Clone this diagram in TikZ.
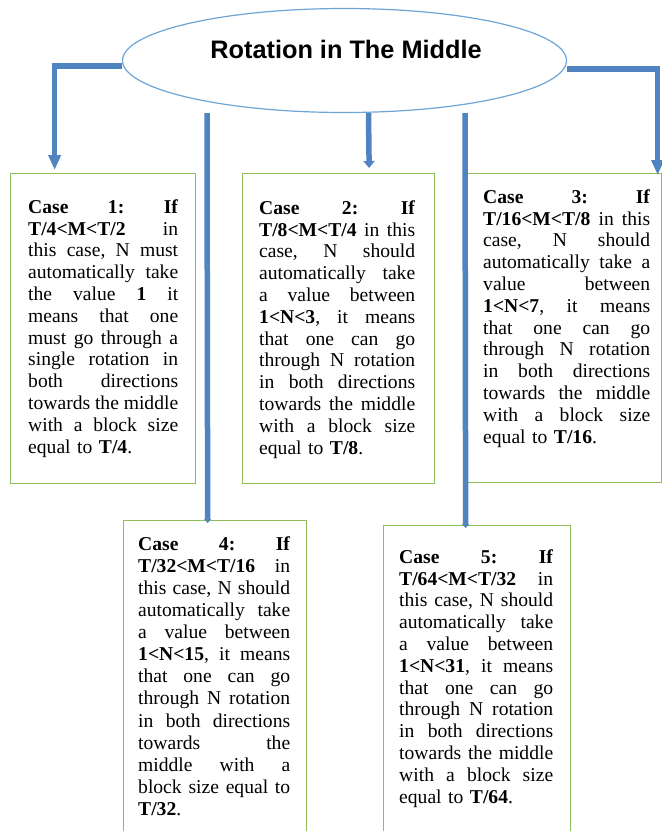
\documentclass[tikz,border=0pt]{standalone}
\usepackage{fontspec}
\setmainfont{Liberation Serif}
\newfontfamily\titlefont{Liberation Sans}
\usetikzlibrary{arrows.meta,shapes.geometric}
\pgfdeclarelayer{bg}
\pgfsetlayers{bg,main}
\definecolor{connblue}{RGB}{80,132,192}
\definecolor{ellblue}{RGB}{110,165,215}
\definecolor{boxgreen}{RGB}{141,190,90}
\newcommand\jl[1]{\leavevmode\hbox to \hsize{\spaceskip=\fontdimen2\font plus 1fil minus 0.1em\xspaceskip=\spaceskip #1}}
\tikzset{
  casebox/.style={draw=boxgreen, line width=1.3pt, rectangle, inner sep=0pt, anchor=north west},
  casetext/.style={anchor=north west, inner sep=0pt, text width=#1, align=left,
     font=\fontsize{19.6}{21.8}\selectfont\frenchspacing,
     execute at begin node={\parindent=0pt\noindent\rule{0pt}{15pt}}},
  conn/.style={draw=connblue, line width=5.5pt},
  bigtip/.style={-{Triangle[width=12pt,length=15pt]}},
  midtip/.style={-{Triangle[width=11pt,length=7pt]}},
  smalltip/.style={-{Triangle[width=7pt,length=4pt]}},
}
\begin{document}
\begin{tikzpicture}[x=1pt,y=-1pt]
\useasboundingbox (0,0) rectangle (662,831);
\begin{pgfonlayer}{bg}
\node[casebox, minimum width=185pt, minimum height=310pt] (b1) at (10,173) {};
\node[casebox, minimum width=192pt, minimum height=310pt] (b2) at (242,173) {};
\node[casebox, minimum width=195pt, minimum height=309pt] (b3) at (466,173) {};
\node[casebox, minimum width=183pt, minimum height=340pt] (b4) at (123,520) {};
\node[casebox, minimum width=187pt, minimum height=335pt] (b5) at (383,525) {};
\end{pgfonlayer}
\node[ellipse, draw=ellblue, line width=1.2pt, fill=white, minimum width=444pt, minimum height=104pt, inner sep=0pt] (ell) at (344.5,60.5) {};
\node[font=\titlefont\bfseries\fontsize{25.3}{30}\selectfont, inner sep=0pt] (title) at (346,49) {Rotation in The Middle};
\begin{pgfonlayer}{bg}
\draw[conn, bigtip] ([yshift=-5.5pt]ell.west) -| ([xshift=-48.5pt,yshift=3pt]b1.north);
\draw[conn, bigtip] ([yshift=-8.5pt]ell.east) -| ([xshift=93.5pt,yshift=-2pt]b3.north);
\draw[conn, midtip] ([xshift=24pt]ell.south) -- ([xshift=30.5pt,yshift=5pt]b2.north);
\draw[conn, smalltip] ([xshift=-137.5pt]ell.south) -- ([xshift=-7.5pt,yshift=-3pt]b4.north);
\draw[conn, smalltip] ([xshift=120.5pt]ell.south) -- ([xshift=-11.5pt,yshift=-3pt]b5.north);
\end{pgfonlayer}
\node[casetext=150pt] (t1) at (28,198) {%
\jl{\textbf{Case 1: If}}\\
\jl{\textbf{T/4<M<T/2} in}\\
\jl{this case, N must}\\
\jl{automatically take}\\
\jl{the value \textbf{1} it}\\
\jl{means that one}\\
\jl{must go through a}\\
\jl{single rotation in}\\
\jl{both directions}\\
\jl{towards the middle}\\
\jl{with a block size}\\
equal to \textbf{T/4}.};
\node[casetext=156pt] (t2) at (259,199) {%
\jl{\textbf{Case 2: If}}\\
\jl{\textbf{T/8<M<T/4} in this}\\
\jl{case, N should}\\
\jl{automatically take}\\
\jl{a value between}\\
\jl{\textbf{1<N<3}, it means}\\
\jl{that one can go}\\
\jl{through N rotation}\\
\jl{in both directions}\\
\jl{towards the middle}\\
\jl{with a block size}\\
equal to \textbf{T/8}.};
\node[casetext=167pt] (t3) at (483,188) {%
\jl{\textbf{Case 3: If}}\\
\jl{\textbf{T/16<M<T/8} in this}\\
\jl{case, N should}\\
\jl{automatically take a}\\
\jl{value between}\\
\jl{\textbf{1<N<7}, it means}\\
\jl{that one can go}\\
\jl{through N rotation}\\
\jl{in both directions}\\
\jl{towards the middle}\\
\jl{with a block size}\\
equal to \textbf{T/16}.};
\node[casetext=152pt, font=\fontsize{19.6}{22.1}\selectfont\frenchspacing] (t4) at (138,535) {%
\jl{\textbf{Case 4: If}}\\
\jl{\textbf{T/32<M<T/16} in}\\
\jl{this case, N should}\\
\jl{automatically take}\\
\jl{a value between}\\
\jl{\textbf{1<N<15}, it means}\\
\jl{that one can go}\\
\jl{through N rotation}\\
\jl{in both directions}\\
\jl{towards the}\\
\jl{middle with a}\\
\jl{block size equal to}\\
\textbf{T/32}.};
\node[casetext=154pt] (t5) at (399,548) {%
\jl{\textbf{Case 5: If}}\\
\jl{\textbf{T/64<M<T/32} in}\\
\jl{this case, N should}\\
\jl{automatically take}\\
\jl{a value between}\\
\jl{\textbf{1<N<31}, it means}\\
\jl{that one can go}\\
\jl{through N rotation}\\
\jl{in both directions}\\
\jl{towards the middle}\\
\jl{with a block size}\\
equal to \textbf{T/64}.};
\end{tikzpicture}
\end{document}
